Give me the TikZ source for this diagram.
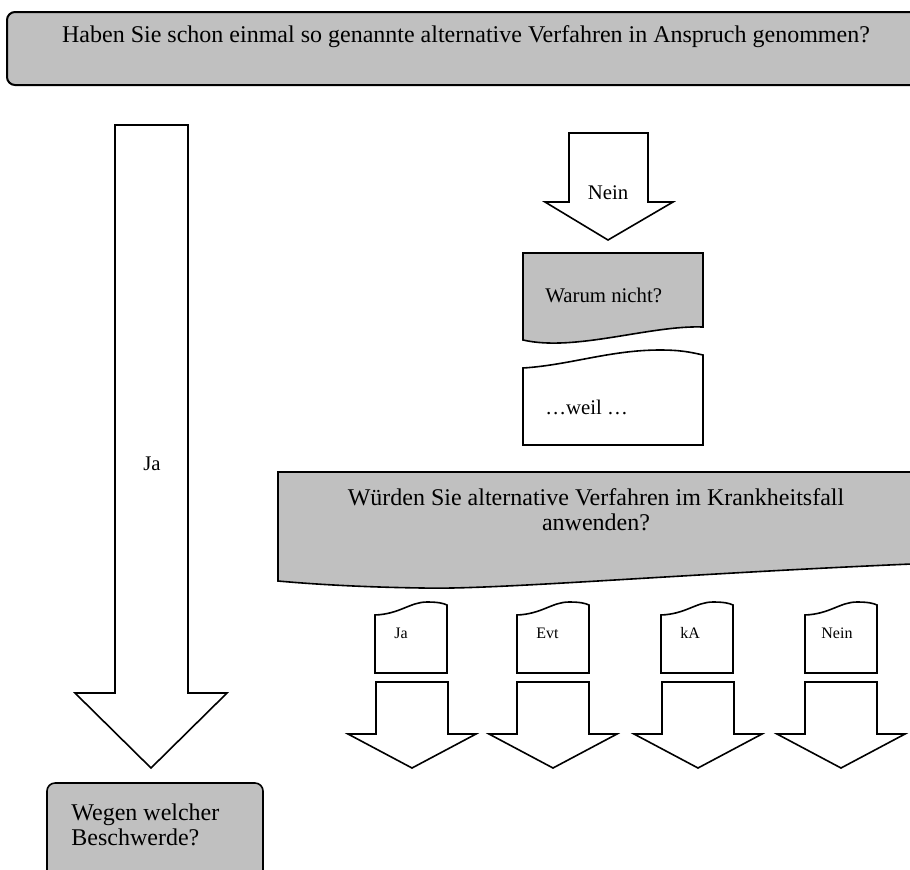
\documentclass[tikz,border=0pt]{standalone}
\usepackage{fontspec}
\setmainfont{Liberation Serif}
\definecolor{boxgray}{RGB}{192,192,192}

\begin{document}
\begin{tikzpicture}[x=0.5pt, y=-0.5pt,
      lbl/.style={inner sep=0pt, font=\fontsize{10.4}{12.5}\selectfont},
      biglbl/.style={inner sep=0pt, font=\fontsize{12}{12.5}\selectfont},
      tinylbl/.style={inner sep=0pt, anchor=west, font=\fontsize{8}{9.6}\selectfont},
      outline/.style={draw=black, line width=0.8pt},
      tab/.pic={\path[outline, fill=white] (-36,0) -- (-36,-58) .. controls (-11,-59) and (-1,-71) .. (16,-71)
                 .. controls (26,-71) and (32,-70) .. (36,-68) -- (36,0) -- cycle;},
      blockdown/.pic={\path[outline, fill=white] (-36,0) -- (36,0) -- (36,52) -- (64,52) -- (0,86)
                 -- (-64,52) -- (-36,52) -- cycle;}]
    \clip (0,0) rectangle (910,869);
    % question at the top
    \path[draw, line width=1pt, fill=boxgray, rounded corners=4pt] (7,12) rectangle (960,85);
    \node[biglbl] (q1) at (466,37) {Haben Sie schon einmal so genannte alternative Verfahren in Anspruch genommen?};

    % Ja branch
    \path[outline, fill=white] (115,125) -- (188,125) -- (188,693) -- (227,693) -- (151,768) -- (75,693)
      -- (115,693) -- cycle;
    \node[lbl] (ja) at (152,464) {Ja};
    \path[outline, fill=boxgray, rounded corners=4pt] (47,783) rectangle (263,920);
    \node[biglbl, anchor=west, align=left] (beschwerde) at (71,824.5) {Wegen welcher\\Beschwerde?};

    % Nein branch
    \path[outline, fill=white] (569,133) -- (648,133) -- (648,202) -- (673,202) -- (608,240) -- (545,202)
      -- (569,202) -- cycle;
    \node[lbl] (nein) at (608,193) {Nein};
    \path[outline, fill=boxgray] (523,253) -- (703,253) -- (703,327) .. controls (650,325) and (575,352)
      .. (523,340) -- cycle;
    \node[lbl, anchor=west] (warum) at (545,295) {Warum nicht?};
    \path[outline, fill=white] (523,445) -- (523,368) .. controls (570,365) and (610,350) .. (660,350)
      .. controls (680,350) and (690,352) .. (703,355) -- (703,445) -- cycle;
    \node[lbl, anchor=west] (weil) at (545,407) {…weil …};

    % second question
    \path[outline, fill=boxgray] (278,472) -- (960,472) -- (960,562) .. controls (700,572) and (500,590)
      .. (423,588) .. controls (350,587) and (300,583) .. (278,581) -- cycle;
    \node[biglbl, align=center] (q2) at (596,509.5) {Würden Sie alternative Verfahren im Krankheitsfall\\anwenden?};

    % answers
    \pic at (411,673) {tab};
    \pic at (553,673) {tab};
    \pic at (697,673) {tab};
    \pic at (841,673) {tab};
    \node[tinylbl] (a1) at (394,633) {Ja};
    \node[tinylbl] (a2) at (536,633) {Evt};
    \node[tinylbl] (a3) at (680,633) {kA};
    \node[tinylbl] (a4) at (821,633) {Nein};
    \pic at (412,682) {blockdown};
    \pic at (553,682) {blockdown};
    \pic at (698,682) {blockdown};
    \pic at (841,682) {blockdown};
  \end{tikzpicture}
\end{document}
